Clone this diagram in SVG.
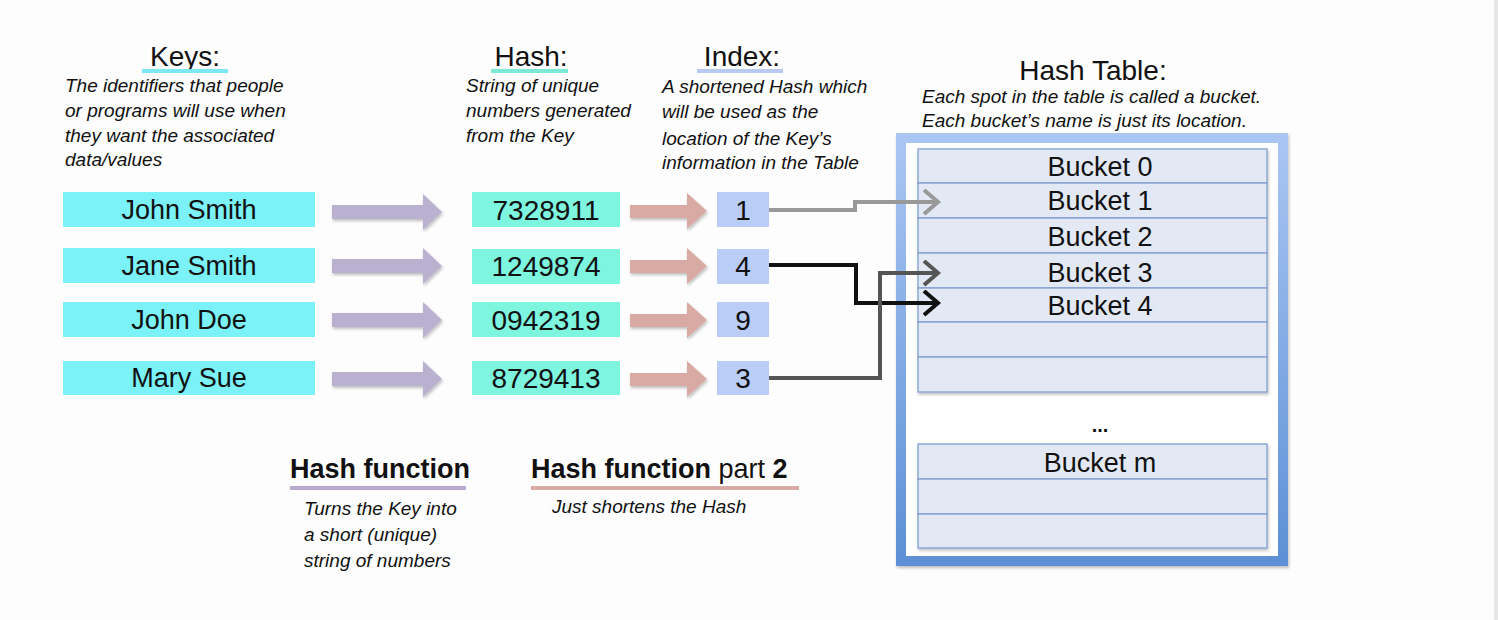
<svg xmlns="http://www.w3.org/2000/svg" width="1498" height="620" viewBox="0 0 1498 620">
<style>
text{font-family:"Liberation Sans",Arial,sans-serif;fill:#111}
.hdr{font-size:28px;text-anchor:middle}
.desc{font-size:19px;font-style:italic}
.lbl{font-size:27px;text-anchor:middle}
.num{font-size:28px;text-anchor:middle}
.key{fill:#7af2f8}
.hash{fill:#7ef5df}
.idx{fill:#bacdf7}
.parr{fill:#bab0d0;filter:url(#sh)}
.rarr{fill:#d8aaa3;filter:url(#sh)}
.row{fill:#e3e9f4;stroke:#7f9fd2;stroke-width:1.3}
.conn{fill:none;stroke-width:4;stroke-linejoin:miter}
.bold{font-weight:bold}
</style>
<defs>
<filter id="sh" x="-10%" y="-20%" width="130%" height="160%">
<feDropShadow dx="1" dy="2" stdDeviation="1.5" flood-color="#000" flood-opacity="0.25"/>
</filter>
<linearGradient id="frame" x1="0" y1="0" x2="0" y2="1">
<stop offset="0" stop-color="#aac6f3"/>
<stop offset="1" stop-color="#5d90d6"/>
</linearGradient>
<marker id="mGray" markerUnits="userSpaceOnUse" markerWidth="20" markerHeight="30" refX="16" refY="13" orient="auto">
<polyline points="2,1 16,13 2,25" fill="none" stroke="#999" stroke-width="4"/>
</marker>
<marker id="mBlack" markerUnits="userSpaceOnUse" markerWidth="20" markerHeight="30" refX="16" refY="13" orient="auto">
<polyline points="2,1 16,13 2,25" fill="none" stroke="#111" stroke-width="4"/>
</marker>
<marker id="mDark" markerUnits="userSpaceOnUse" markerWidth="20" markerHeight="30" refX="16" refY="13" orient="auto">
<polyline points="2,1 16,13 2,25" fill="none" stroke="#555" stroke-width="4"/>
</marker>
</defs>
<rect x="0" y="0" width="1498" height="620" fill="#fdfdfd"/>
<rect x="1494" y="0" width="4" height="620" fill="#e6e6e6"/>

<g id="headers">
<text class="hdr" x="185" y="66">Keys:</text>
<rect x="142" y="69" width="86" height="4" fill="#7de8f3"/>
<text class="desc" x="65" y="92">The identifiers that people</text>
<text class="desc" x="65" y="117">or programs will use when</text>
<text class="desc" x="65" y="142">they want the associated</text>
<text class="desc" x="65" y="166">data/values</text>

<text class="hdr" x="531" y="66">Hash:</text>
<rect x="491" y="69" width="77" height="4" fill="#7de8d4"/>
<text class="desc" x="466" y="92">String of unique</text>
<text class="desc" x="466" y="117">numbers generated</text>
<text class="desc" x="466" y="142">from the Key</text>

<text class="hdr" x="742" y="66">Index:</text>
<rect x="697" y="69" width="86" height="4" fill="#b9cbf2"/>
<text class="desc" x="662" y="93">A shortened Hash which</text>
<text class="desc" x="662" y="118">will be used as the</text>
<text class="desc" x="662" y="145">location of the Key’s</text>
<text class="desc" x="662" y="169">information in the Table</text>

<text class="hdr" x="1093" y="80">Hash Table:</text>
<text class="desc" x="922" y="103">Each spot in the table is called a bucket.</text>
<text class="desc" x="922" y="127">Each bucket’s name is just its location.</text>
</g>

<g id="keys">
<rect class="key" x="63" y="192" width="252" height="35"/>
<text class="lbl" x="189" y="219">John Smith</text>
<rect class="key" x="63" y="248" width="252" height="35"/>
<text class="lbl" x="189" y="275">Jane Smith</text>
<rect class="key" x="63" y="302" width="252" height="35"/>
<text class="lbl" x="189" y="329">John Doe</text>
<rect class="key" x="63" y="361" width="252" height="34"/>
<text class="lbl" x="189" y="387">Mary Sue</text>
</g>

<g id="hashfn-arrows">
<polygon class="parr" points="332,205 423,205 423,194 442,212 423,230 423,219 332,219"/>
<polygon class="parr" points="332,259 423,259 423,248 442,266 423,284 423,273 332,273"/>
<polygon class="parr" points="332,313 423,313 423,302 442,320 423,338 423,327 332,327"/>
<polygon class="parr" points="332,372 423,372 423,361 442,379 423,397 423,386 332,386"/>
</g>

<g id="hashes">
<rect class="hash" x="472" y="192" width="148" height="35"/>
<text class="num" x="546" y="220">7328911</text>
<rect class="hash" x="472" y="249" width="148" height="35"/>
<text class="num" x="546" y="276">1249874</text>
<rect class="hash" x="472" y="302" width="148" height="35"/>
<text class="num" x="546" y="330">0942319</text>
<rect class="hash" x="472" y="361" width="148" height="34"/>
<text class="num" x="546" y="388">8729413</text>
</g>

<g id="hashfn2-arrows">
<polygon class="rarr" points="630,205 687,205 687,193 707,211 687,229 687,218 630,218"/>
<polygon class="rarr" points="630,260 687,260 687,248 707,266 687,284 687,273 630,273"/>
<polygon class="rarr" points="630,314 687,314 687,302 707,320 687,338 687,327 630,327"/>
<polygon class="rarr" points="630,373 687,373 687,361 707,379 687,397 687,386 630,386"/>
</g>

<g id="indexes">
<rect class="idx" x="717" y="192" width="52" height="35"/>
<text class="num" x="743" y="220">1</text>
<rect class="idx" x="717" y="249" width="52" height="35"/>
<text class="num" x="743" y="276">4</text>
<rect class="idx" x="717" y="302" width="52" height="35"/>
<text class="num" x="743" y="330">9</text>
<rect class="idx" x="717" y="361" width="52" height="34"/>
<text class="num" x="743" y="388">3</text>
</g>

<g id="hashtable">
<rect x="901" y="138" width="382" height="423" fill="#fff" stroke="url(#frame)" stroke-width="10" filter="url(#sh)"/>
<g filter="url(#sh)">
<rect class="row" x="918" y="149" width="349" height="34"/>
<rect class="row" x="918" y="183" width="349" height="35"/>
<rect class="row" x="918" y="218" width="349" height="35"/>
<rect class="row" x="918" y="253" width="349" height="35"/>
<rect class="row" x="918" y="288" width="349" height="34"/>
<rect class="row" x="918" y="322" width="349" height="35"/>
<rect class="row" x="918" y="357" width="349" height="35"/>
<rect class="row" x="918" y="444" width="349" height="35"/>
<rect class="row" x="918" y="479" width="349" height="35"/>
<rect class="row" x="918" y="514" width="349" height="34"/>
</g>
<text class="lbl" x="1100" y="176">Bucket 0</text>
<text class="lbl" x="1100" y="210">Bucket 1</text>
<text class="lbl" x="1100" y="246">Bucket 2</text>
<text class="lbl" x="1100" y="282">Bucket 3</text>
<text class="lbl" x="1100" y="315">Bucket 4</text>
<text class="lbl bold" x="1100" y="432" style="font-size:20px">...</text>
<text class="lbl" x="1100" y="472">Bucket m</text>
</g>

<g id="connectors">
<polyline class="conn" stroke="#999" points="769,210 855,210 855,202 938,202" marker-end="url(#mGray)"/>
<polyline class="conn" stroke="#111" points="769,265 856,265 856,303 938,303" marker-end="url(#mBlack)"/>
<polyline class="conn" stroke="#555" points="769,378 880,378 880,273 938,273" marker-end="url(#mDark)"/>
</g>

<g id="legend">
<text class="bold" x="290" y="478" style="font-size:27px">Hash function</text>
<rect x="290" y="486" width="176" height="4" fill="#b8a9d2"/>
<text class="desc" x="304" y="515">Turns the Key into</text>
<text class="desc" x="304" y="541">a short (unique)</text>
<text class="desc" x="304" y="567">string of numbers</text>
<text x="531" y="478" style="font-size:27px"><tspan class="bold">Hash function</tspan> part <tspan class="bold">2</tspan></text>
<rect x="531" y="486" width="268" height="4" fill="#d9aaa5"/>
<text class="desc" x="552" y="513">Just shortens the Hash</text>
</g>
</svg>
